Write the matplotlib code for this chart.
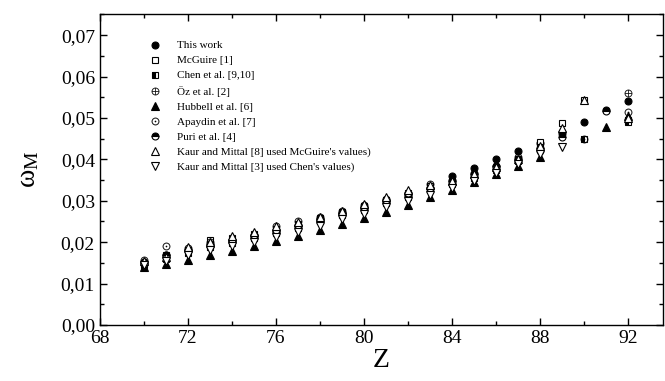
import numpy as np
import matplotlib
matplotlib.use("Agg")
import matplotlib.pyplot as plt
from matplotlib.ticker import FuncFormatter, MultipleLocator

nan = np.nan
Z = list(range(70, 93))

this_work = [0.0150, 0.0168, 0.0180, 0.0192, 0.0203, 0.0215, 0.0228, 0.0240,
             0.0255, 0.0270, 0.0282, 0.0300, 0.0315, 0.0330, 0.0360, 0.0378,
             0.0400, 0.0420, 0.0440, 0.0465, 0.0490, 0.0520, 0.0542]
mcguire = [0.0150, 0.0170, 0.0182, 0.0205, 0.0210, 0.0220, 0.0232, 0.0245,
           0.0258, 0.0272, 0.0288, 0.0302, 0.0318, 0.0335, 0.0345, 0.0362,
           0.0380, 0.0400, 0.0442, 0.0488, 0.0543, nan, 0.0495]
chen = [0.0145, 0.0160, 0.0175, 0.0188, 0.0198, 0.0210, 0.0222, 0.0235,
        0.0250, 0.0265, 0.0278, 0.0295, 0.0310, 0.0325, 0.0340, 0.0355,
        0.0375, 0.0395, 0.0430, nan, 0.0450, nan, 0.0490]
oz = [0.0148, 0.0165, 0.0178, 0.0190, 0.0200, 0.0212, 0.0225, 0.0238,
      0.0252, 0.0268, 0.0280, 0.0298, 0.0312, 0.0328, 0.0342, 0.0360,
      0.0378, 0.0398, 0.0425, 0.0462, nan, nan, 0.0560]
hubbell = [0.0140, 0.0148, 0.0158, 0.0168, 0.0178, 0.0190, 0.0203, 0.0215,
           0.0230, 0.0245, 0.0258, 0.0273, 0.0290, 0.0308, 0.0325, 0.0345,
           0.0365, 0.0385, 0.0405, nan, nan, 0.0478, 0.0505]
apaydin = [0.0158, 0.0192, 0.0185, 0.0200, 0.0205, 0.0218, 0.0238, 0.0250,
           0.0262, 0.0275, 0.0290, 0.0305, 0.0320, 0.0340, 0.0350, 0.0368,
           0.0385, 0.0405, 0.0420, nan, 0.0450, nan, 0.0515]
puri = [0.0152, 0.0170, 0.0182, 0.0195, 0.0205, 0.0218, 0.0230, 0.0242,
        0.0256, 0.0270, 0.0285, 0.0302, 0.0318, 0.0332, 0.0348, 0.0365,
        0.0383, 0.0402, 0.0428, 0.0455, nan, 0.0517, nan]
kaur_mcg = [0.0155, 0.0165, 0.0188, 0.0200, 0.0215, 0.0225, 0.0238, 0.0248,
            0.0262, 0.0275, 0.0292, 0.0308, 0.0325, 0.0338, 0.0348, 0.0365,
            0.0382, 0.0400, 0.0432, 0.0475, 0.0543, nan, 0.0500]
kaur_chen = [0.0145, 0.0155, 0.0168, 0.0180, 0.0190, 0.0200, 0.0212, 0.0225,
             0.0240, 0.0255, 0.0268, 0.0285, 0.0300, 0.0315, 0.0330, 0.0348,
             0.0368, 0.0388, 0.0412, 0.0430, nan, nan, nan]

labels = ["This work", "McGuire [1]", "Chen et al. [9,10]", "\u00d6z et al. [2]",
          "Hubbell et al. [6]", "Apaydin et al. [7]", "Puri et al. [4]",
          "Kaur and Mittal [8] used McGuire's values)",
          "Kaur and Mittal [3] used Chen's values)"]

plt.rcParams['font.family'] = ['Liberation Serif', 'DejaVu Serif']
plt.rcParams['mathtext.fontset'] = 'stix'

fig = plt.figure(figsize=(6.65, 3.81), dpi=100)
ax = fig.add_axes([0.150, 0.147, 0.847, 0.815])

styles = [
    dict(marker='o', mfc='k', ms=5, mew=0.8),
    dict(marker='s', mfc='w', ms=4.5, mew=0.8),
    dict(marker='s', mfc='k', fillstyle='left', ms=4.5, mew=0.8),
    dict(marker=r'$\oplus$', mfc='k', ms=5.5, mew=0.1),
    dict(marker='^', mfc='k', ms=5.5, mew=0.8),
    dict(marker=r'$\odot$', mfc='k', ms=5.5, mew=0.1),
    dict(marker='o', mfc='k', fillstyle='top', ms=5, mew=0.8),
    dict(marker='^', mfc='w', ms=5.5, mew=0.8),
    dict(marker='v', mfc='w', ms=5.5, mew=0.8),
]
series = [this_work, mcguire, chen, oz, hubbell, apaydin, puri, kaur_mcg, kaur_chen]

for vals, lab, st in zip(series, labels, styles):
    kw = dict(st)
    if kw.get('fillstyle'):
        kw['markerfacecoloralt'] = 'w'
    ax.plot(Z, vals, ls='none', mec='k', label=lab, **kw)

ax.set_xlim(68, 93.6)
ax.set_ylim(0, 0.075)
ax.xaxis.set_major_locator(MultipleLocator(4))
ax.xaxis.set_minor_locator(MultipleLocator(2))
ax.yaxis.set_major_locator(MultipleLocator(0.01))
ax.yaxis.set_minor_locator(MultipleLocator(0.005))
ax.yaxis.set_major_formatter(FuncFormatter(lambda v, p: ("%.2f" % v).replace(".", ",")))
ax.tick_params(which='both', direction='in', top=True, right=True, labelsize=14)
ax.tick_params(which='major', length=5, width=1)
ax.tick_params(which='minor', length=3, width=1)
for s in ax.spines.values():
    s.set_linewidth(1)

ax.set_xlabel("Z", fontsize=20, labelpad=1)
ax.set_ylabel(r"$\mathregular{\omega_M}$", fontsize=20, labelpad=14)

ax.legend(loc='upper left', bbox_to_anchor=(0.08, 0.93), frameon=False,
          fontsize=8, handlelength=1.0, handletextpad=1.5, labelspacing=0.47,
          borderaxespad=0)

fig.savefig("out.png", dpi=100)
